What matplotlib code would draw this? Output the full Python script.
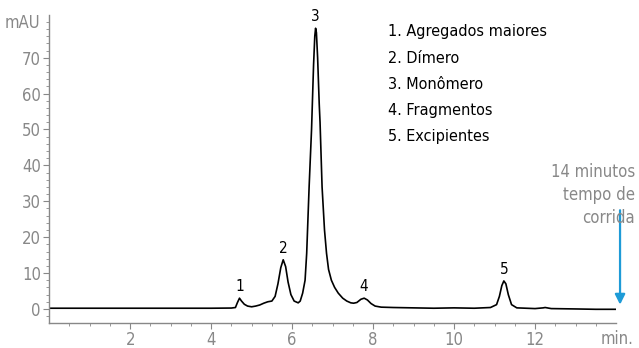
import matplotlib
matplotlib.use("Agg")
import matplotlib.pyplot as plt
import numpy as np

# SEC trace (time in min, absorbance in mAU)
time_min = [0, 1, 2, 3, 4, 4.5, 4.6, 4.65, 4.70, 4.75, 4.82, 4.9, 5.0, 5.1, 5.2,
            5.3, 5.4, 5.5, 5.58, 5.65, 5.72, 5.78, 5.84, 5.90, 5.97, 6.05, 6.15,
            6.20, 6.26, 6.32, 6.36, 6.42, 6.48, 6.53, 6.56, 6.58, 6.60, 6.63, 6.67,
            6.69, 6.74, 6.80, 6.85, 6.90, 6.97, 7.05, 7.14, 7.25, 7.35, 7.45, 7.52,
            7.6, 7.7, 7.78, 7.86, 7.95, 8.05, 8.2, 8.5, 9, 9.5, 10, 10.5, 10.9,
            11.05, 11.12, 11.18, 11.23, 11.28, 11.34, 11.42, 11.55, 12, 12.2,
            12.25, 12.4, 13, 13.5, 14]
mau = [0.2, 0.2, 0.2, 0.2, 0.2, 0.25, 0.4, 1.8, 3.0, 2.2, 1.3, 0.8, 0.6, 0.8, 1.1,
       1.6, 2.0, 2.2, 3.5, 7.0, 11.5, 13.7, 11.8, 7.5, 4.0, 2.2, 1.7,
       2.2, 4.4, 8.0, 15.5, 34, 50, 68, 76, 78.2, 77, 70, 57,
       52, 34, 22, 15.5, 11, 8.0, 6.0, 4.4, 3.0, 2.2, 1.7, 1.6,
       1.8, 2.7, 3.0, 2.5, 1.5, 0.8, 0.5, 0.4, 0.3, 0.2, 0.3, 0.2, 0.4,
       1.2, 3.5, 6.5, 7.8, 7.0, 4.0, 1.2, 0.3, 0.1, 0.3,
       0.4, 0.1, 0.0, -0.1, -0.1]

peak_ids = ["1", "2", "3", "4", "5"]
peak_rt = [4.70, 5.78, 6.58, 7.78, 11.23]
peak_names = ["Agregados maiores", "Dímero", "Monômero", "Fragmentos", "Excipientes"]

run_time = 14
note_lines = ["14 minutos", "tempo de", "corrida"]

GREY = "#888888"
BLUE = "#1e9bd7"

plt.rcParams["font.family"] = ["DejaVu Sans"]
plt.rcParams["font.stretch"] = "condensed"

fig = plt.figure(figsize=(6.39, 3.48), dpi=100)
ax = fig.add_axes([0.077, 0.072, 0.887, 0.885])

ax.plot(time_min, mau, color="black", lw=1.2)

# number above each peak apex
for pid, rt in zip(peak_ids, peak_rt):
    h = np.interp(rt, time_min, mau)
    ax.annotate(pid, (rt, h), xytext=(0, 3), textcoords="offset points",
                ha="center", va="bottom", fontsize=11, color="black")

# peak key
for i, (pid, name) in enumerate(zip(peak_ids, peak_names)):
    ax.text(0.598, 0.945 - i * 0.085, f"{pid}. {name}", transform=ax.transAxes,
            fontsize=11.6, ha="left", va="center", color="black")

# end-of-run marker
ax.annotate("", xy=(run_time + 0.1, 1.2), xytext=(run_time + 0.1, 27.5),
            annotation_clip=False,
            arrowprops=dict(arrowstyle="-|>", color=BLUE, lw=1.6,
                            mutation_scale=15, shrinkA=0, shrinkB=0))
for i, line in enumerate(note_lines):
    fig.text(0.994, 0.505 - i * 0.066, line, fontsize=12, color=GREY,
             ha="right", va="center")

ax.set_xlim(0, 14)
ax.set_ylim(-3.9, 81.9)
ax.set_xticks([2, 4, 6, 8, 10, 12])
ax.set_xticks(np.arange(0.5, 14, 0.5), minor=True)
ax.set_yticks([0, 10, 20, 30, 40, 50, 60, 70])
ax.set_yticks(np.arange(-2, 81, 2), minor=True)

for side in ("top", "right"):
    ax.spines[side].set_visible(False)
for side in ("left", "bottom"):
    ax.spines[side].set_color(GREY)
    ax.spines[side].set_linewidth(1.0)

ax.tick_params(axis="both", which="major", colors=GREY, labelsize=12,
               length=4, width=0.8, pad=2)
ax.tick_params(axis="both", which="minor", colors=GREY, length=2, width=0.6)
ax.tick_params(axis="x", which="major", pad=2)

fig.text(0.063, 0.935, "mAU", fontsize=12, color=GREY, ha="right", va="center")
fig.text(0.991, 0.026, "min.", fontsize=12, color=GREY, ha="right", va="center")

fig.savefig("out.png", dpi=100)
